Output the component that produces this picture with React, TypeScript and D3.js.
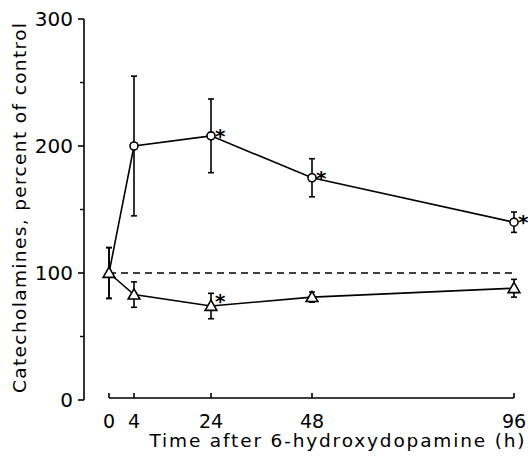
import React from "react";
import * as d3 from "d3";

const times = [0, 4, 24, 48, 96];
const circleMean = [100, 200, 208, 175, 140];
const circleErr = [20, 55, 29, 15, 8];
const circleStar = [false, false, true, true, true];
const triMean = [100, 83, 74, 81, 88];
const triErr = [20, 10, 10, 4, 7];
const triStar = [false, false, true, false, false];
const yTicks = [0, 100, 200, 300];
const yMinor = [50, 150, 250];
const xTicks = [0, 4, 24, 48, 96];

const W = 528;
const H = 460;
const font = "'DejaVu Sans', Verdana, sans-serif";

const App = () => {
  // the original axis is stretched a little near 0, so use a piecewise scale
  const x = d3.scaleLinear().domain([0, 4, 24, 96]).range([109, 134, 211, 514]);
  const y = d3.scaleLinear().domain([0, 300]).range([400, 19]);
  const line = d3
    .line<number>()
    .x((d, i) => x(times[i]))
    .y((d) => y(d));

  const tri = d3.symbol().type(d3.symbolTriangle).size(60)();

  const errBars = (mean: number[], err: number[], key: string) =>
    mean.map((m, i) => (
      <g key={key + i} stroke="#000" strokeWidth={1.6}>
        <line x1={x(times[i])} x2={x(times[i])} y1={y(m + err[i])} y2={y(m - err[i])} />
        <line x1={x(times[i]) - 3} x2={x(times[i]) + 3} y1={y(m + err[i])} y2={y(m + err[i])} />
        <line x1={x(times[i]) - 3} x2={x(times[i]) + 3} y1={y(m - err[i])} y2={y(m - err[i])} />
      </g>
    ));

  return (
    <svg width={W} height={H} style={{ display: "block", position: "absolute", left: 0, top: 0 }}>
      <rect width={W} height={H} fill="#fff" />
      {/* y axis */}
      <line x1={84} x2={84} y1={y(300)} y2={y(0)} stroke="#000" strokeWidth={1.6} />
      {yTicks.map((t) => (
        <g key={"yt" + t}>
          <line x1={78} x2={84} y1={y(t)} y2={y(t)} stroke="#000" strokeWidth={1.6} />
          <text x={73} y={y(t)} dy="0.36em" textAnchor="end" fontFamily={font} fontSize={20}>
            {t}
          </text>
        </g>
      ))}
      {yMinor.map((t) => (
        <line key={"ym" + t} x1={80} x2={84} y1={y(t)} y2={y(t)} stroke="#000" strokeWidth={1.4} />
      ))}
      <text
        transform={`translate(26,208) rotate(-90)`}
        textAnchor="middle"
        fontFamily={font}
        fontSize={18.5}
        textLength={370}
        lengthAdjust="spacing"
      >
        Catecholamines, percent of control
      </text>
      {/* x axis */}
      <line x1={x(0)} x2={x(96)} y1={398} y2={398} stroke="#000" strokeWidth={1.6} />
      {xTicks.map((t) => (
        <g key={"xt" + t}>
          <line x1={x(t)} x2={x(t)} y1={398} y2={393} stroke="#000" strokeWidth={1.6} />
          <text x={x(t)} y={428} textAnchor="middle" fontFamily={font} fontSize={19}>
            {t}
          </text>
        </g>
      ))}
      <text
        x={337}
        y={447}
        textAnchor="middle"
        fontFamily={font}
        fontSize={18.5}
        textLength={375}
        lengthAdjust="spacing"
      >
        Time after 6-hydroxydopamine (h)
      </text>
      {/* dashed control line */}
      <line
        x1={x(0)}
        x2={x(96) + 3}
        y1={y(100)}
        y2={y(100)}
        stroke="#000"
        strokeWidth={1.6}
        strokeDasharray="7,5"
      />
      {errBars(circleMean, circleErr, "ce")}
      {errBars(triMean, triErr, "te")}
      <path d={line(circleMean) || ""} fill="none" stroke="#000" strokeWidth={1.6} />
      <path d={line(triMean) || ""} fill="none" stroke="#000" strokeWidth={1.6} />
      {circleMean.map((m, i) =>
        i === 0 ? null : (
          <circle key={"c" + i} cx={x(times[i])} cy={y(m)} r={4} fill="#fff" stroke="#000" strokeWidth={1.6} />
        )
      )}
      {triMean.map((m, i) => (
        <path
          key={"t" + i}
          d={tri || ""}
          transform={`translate(${x(times[i])},${y(m) + 1})`}
          fill="#fff"
          stroke="#000"
          strokeWidth={1.6}
        />
      ))}
      {circleMean.map((m, i) =>
        circleStar[i] ? (
          <text key={"cs" + i} x={x(times[i]) + 4} y={y(m) + 7} fontFamily={font} fontSize={20} fontWeight="bold">
            *
          </text>
        ) : null
      )}
      {triMean.map((m, i) =>
        triStar[i] ? (
          <text key={"ts" + i} x={x(times[i]) + 4} y={y(m) + 2} fontFamily={font} fontSize={20} fontWeight="bold">
            *
          </text>
        ) : null
      )}
    </svg>
  );
};

export default App;
